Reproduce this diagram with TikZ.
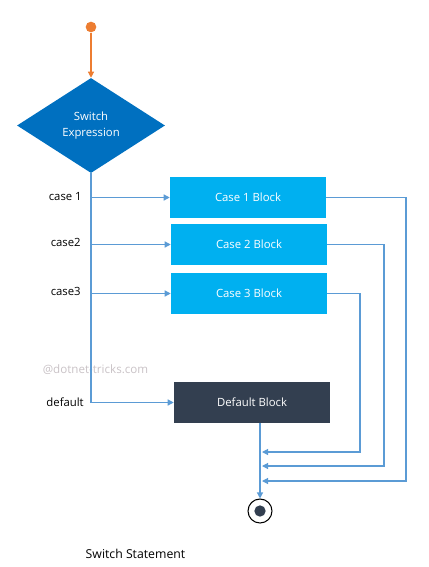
\documentclass[tikz,border=0pt]{standalone}
\usepackage{fontspec}
\setmainfont{Open Sans}
\usetikzlibrary{shapes.geometric,arrows.meta}
\definecolor{flowblue}{HTML}{5B9BD5}
\definecolor{startorange}{HTML}{ED7D31}
\definecolor{diamondblue}{HTML}{0070C0}
\definecolor{caseblue}{HTML}{00B0F0}
\definecolor{darkslate}{HTML}{333F50}
\definecolor{wmark}{HTML}{C9C2C6}
\tikzset{
  flow/.style={draw=flowblue, line width=0.9pt, -{Triangle[length=4.5pt,width=4.5pt]}},
  casebox/.style={rectangle, fill=caseblue, text=white, minimum width=117pt, minimum height=30.75pt, inner sep=0pt, font=\fontsize{8.5}{10}\selectfont},
  lbl/.style={font=\fontsize{8.5}{10}\selectfont, text=black, inner sep=0pt},
}
\begin{document}
\begin{tikzpicture}[x=0.75pt, y=-0.75pt]
\useasboundingbox (0,0) rectangle (428,567);
\node[circle, fill=startorange, minimum size=8pt, inner sep=0pt] (start) at (91,27) {};
\node[diamond, fill=diamondblue, text=white, minimum width=111pt, minimum height=71.25pt, inner sep=0pt, font=\fontsize{8.5}{12}\selectfont] (sw) at (91,125.5) {\raisebox{1.5pt}{\begin{tabular}{@{}c@{}}Switch\\Expression\end{tabular}}};
\node[casebox] (c1) at (248,197.5) {Case 1 Block};
\node[casebox] (c2) at (249,244.5) {Case 2 Block};
\node[casebox] (c3) at (249,293.5) {Case 3 Block};
\node[casebox, fill=darkslate] (def) at (252,402.5) {Default Block};
\node[circle, draw=black, line width=0.8pt, minimum size=18pt, inner sep=0pt] (end) at (260,511) {};
\node[circle, fill=darkslate, minimum size=8.5pt, inner sep=0pt] (endin) at (end.center) {};

\node[lbl, anchor=east] (l1) at (82,197) {case 1};
\node[lbl, anchor=east] (l2) at (81,242) {case2};
\node[lbl, anchor=east] (l3) at (81,291) {case3};
\node[lbl, anchor=east] (l4) at (84,402) {default};
\node[lbl, text=wmark, font=\fontsize{8.7}{10}\selectfont] (wm) at (95.5,370) {@dotnet-tricks.com};
\node[lbl, font=\fontsize{9.2}{11}\selectfont] (title) at (135.5,554) {Switch Statement};

\draw[draw=startorange, line width=0.9pt, -{Triangle[length=4.5pt,width=4.5pt]}] (start) -- (sw.north);
\draw[flow] (sw.south) |- (def.west);
\draw[flow] (sw.south |- c1.west) -- (c1.west);
\draw[flow] (sw.south |- c2.west) -- (c2.west);
\draw[flow] (sw.south |- c3.west) -- (c3.west);

\coordinate (r1) at (406,481);
\coordinate (r2) at (384,466);
\coordinate (r3) at (360,452);
\coordinate (t1) at (262,481);
\coordinate (t2) at (262,466);
\coordinate (t3) at (262,452);
\draw[flow] (c1.east) -| (r1) -- (t1);
\draw[flow] (c2.east) -| (r2) -- (t2);
\draw[flow] (c3.east) -| (r3) -- (t3);
\draw[flow] (end.north |- def.south) -- (end.north);
\end{tikzpicture}
\end{document}
